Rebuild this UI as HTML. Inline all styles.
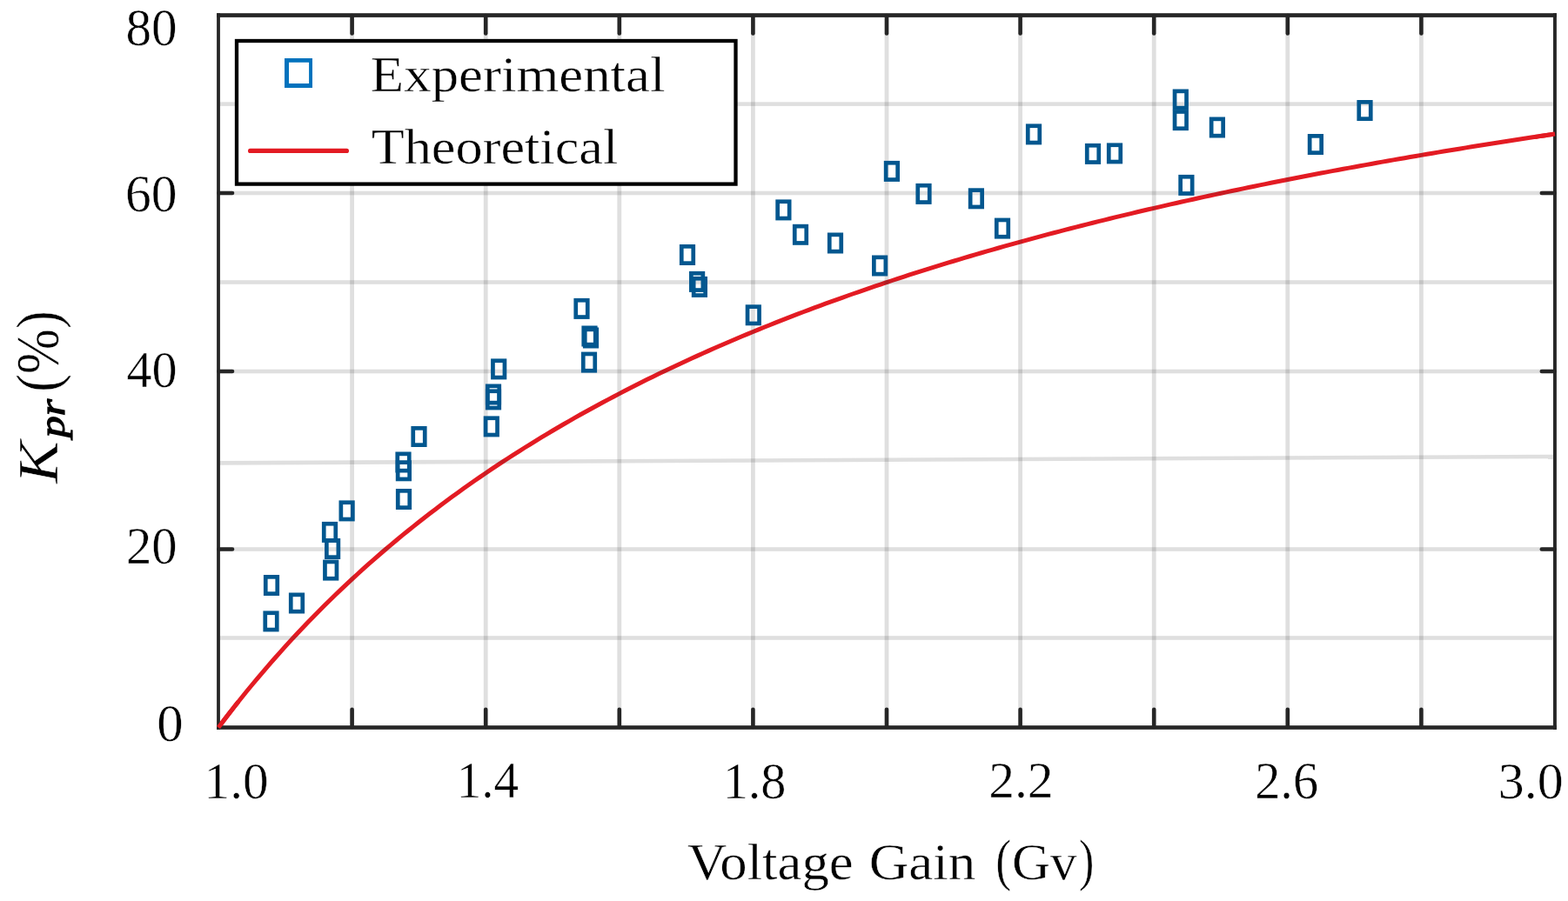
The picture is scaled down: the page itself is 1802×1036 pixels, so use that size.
<!DOCTYPE html>
<html><head><meta charset="utf-8"><title>K_pr vs Voltage Gain</title>
<style>html,body{margin:0;padding:0;background:#fff;overflow:hidden}svg{display:block}</style>
</head><body>
<svg width="1802" height="1036" viewBox="0 0 1802 1036">
<rect width="1802" height="1036" fill="#fff"/>
<polyline points="251.00,836.50 257.40,828.04 263.80,819.72 270.20,811.53 276.60,803.48 283.00,795.55 289.40,787.75 295.80,780.07 302.20,772.52 308.60,765.08 315.00,757.75 321.40,750.54 327.80,743.43 334.20,736.43 340.60,729.54 347.00,722.75 353.40,716.06 359.80,709.47 366.20,702.97 372.60,696.56 379.00,690.25 385.40,684.03 391.80,677.89 398.20,671.84 404.60,665.88 411.00,659.99 417.40,654.19 423.80,648.46 430.20,642.82 436.60,637.25 443.00,631.75 449.40,626.33 455.80,620.97 462.20,615.69 468.60,610.48 475.00,605.33 481.40,600.25 487.80,595.23 494.20,590.28 500.60,585.39 507.00,580.56 513.40,575.79 519.80,571.08 526.20,566.43 532.60,561.84 539.00,557.30 545.40,552.81 551.80,548.38 558.20,544.00 564.60,539.67 571.00,535.40 577.40,531.17 583.80,526.99 590.20,522.87 596.60,518.78 603.00,514.75 609.40,510.76 615.80,506.82 622.20,502.92 628.60,499.06 635.00,495.25 641.40,491.48 647.80,487.75 654.20,484.06 660.60,480.41 667.00,476.80 673.40,473.23 679.80,469.70 686.20,466.21 692.60,462.75 699.00,459.33 705.40,455.94 711.80,452.59 718.20,449.28 724.60,446.00 731.00,442.75 737.40,439.54 743.80,436.35 750.20,433.20 756.60,430.09 763.00,427.00 769.40,423.94 775.80,420.92 782.20,417.92 788.60,414.96 795.00,412.02 801.40,409.11 807.80,406.23 814.20,403.37 820.60,400.55 827.00,397.75 833.40,394.98 839.80,392.23 846.20,389.51 852.60,386.82 859.00,384.15 865.40,381.50 871.80,378.88 878.20,376.28 884.60,373.71 891.00,371.16 897.40,368.63 903.80,366.13 910.20,363.65 916.60,361.19 923.00,358.75 929.40,356.33 935.80,353.94 942.20,351.57 948.60,349.21 955.00,346.88 961.40,344.57 967.80,342.28 974.20,340.00 980.60,337.75 987.00,335.52 993.40,333.30 999.80,331.10 1006.20,328.93 1012.60,326.77 1019.00,324.62 1025.40,322.50 1031.80,320.39 1038.20,318.31 1044.60,316.23 1051.00,314.18 1057.40,312.14 1063.80,310.12 1070.20,308.11 1076.60,306.12 1083.00,304.15 1089.40,302.19 1095.80,300.25 1102.20,298.32 1108.60,296.41 1115.00,294.51 1121.40,292.63 1127.80,290.77 1134.20,288.91 1140.60,287.07 1147.00,285.25 1153.40,283.44 1159.80,281.64 1166.20,279.86 1172.60,278.09 1179.00,276.33 1185.40,274.59 1191.80,272.86 1198.20,271.15 1204.60,269.44 1211.00,267.75 1217.40,266.07 1223.80,264.40 1230.20,262.75 1236.60,261.11 1243.00,259.48 1249.40,257.86 1255.80,256.25 1262.20,254.66 1268.60,253.07 1275.00,251.50 1281.40,249.94 1287.80,248.39 1294.20,246.85 1300.60,245.32 1307.00,243.80 1313.40,242.30 1319.80,240.80 1326.20,239.31 1332.60,237.84 1339.00,236.37 1345.40,234.91 1351.80,233.47 1358.20,232.03 1364.60,230.61 1371.00,229.19 1377.40,227.78 1383.80,226.39 1390.20,225.00 1396.60,223.62 1403.00,222.25 1409.40,220.89 1415.80,219.54 1422.20,218.20 1428.60,216.86 1435.00,215.54 1441.40,214.22 1447.80,212.91 1454.20,211.61 1460.60,210.32 1467.00,209.04 1473.40,207.77 1479.80,206.50 1486.20,205.24 1492.60,203.99 1499.00,202.75 1505.40,201.52 1511.80,200.29 1518.20,199.07 1524.60,197.86 1531.00,196.66 1537.40,195.46 1543.80,194.27 1550.20,193.09 1556.60,191.92 1563.00,190.75 1569.40,189.59 1575.80,188.44 1582.20,187.29 1588.60,186.15 1595.00,185.02 1601.40,183.90 1607.80,182.78 1614.20,181.67 1620.60,180.56 1627.00,179.47 1633.40,178.38 1639.80,177.29 1646.20,176.21 1652.60,175.14 1659.00,174.07 1665.40,173.01 1671.80,171.96 1678.20,170.91 1684.60,169.87 1691.00,168.84 1697.40,167.81 1703.80,166.78 1710.20,165.77 1716.60,164.76 1723.00,163.75 1729.40,162.75 1735.80,161.76 1742.20,160.77 1748.60,159.78 1755.00,158.81 1761.40,157.83 1767.80,156.87 1774.20,155.91 1780.60,154.95 1787.00,154.00" fill="none" stroke="#e31b23" stroke-width="5" stroke-linejoin="round" stroke-linecap="butt"/>
<g fill="#262626" fill-opacity="0.15">
<rect x="402.20" y="19.9" width="4.8" height="814.30"/>
<rect x="555.80" y="19.9" width="4.8" height="814.30"/>
<rect x="709.40" y="19.9" width="4.8" height="814.30"/>
<rect x="863.00" y="19.9" width="4.8" height="814.30"/>
<rect x="1016.60" y="19.9" width="4.8" height="814.30"/>
<rect x="1170.20" y="19.9" width="4.8" height="814.30"/>
<rect x="1323.80" y="19.9" width="4.8" height="814.30"/>
<rect x="1477.40" y="19.9" width="4.8" height="814.30"/>
<rect x="1631.00" y="19.9" width="4.8" height="814.30"/>
<rect x="252.9" y="731.20" width="1532.10" height="4.6"/>
<rect x="252.9" y="629.20" width="1532.10" height="4.6"/>
<rect x="252.9" y="424.70" width="1532.10" height="4.6"/>
<rect x="252.9" y="322.20" width="1532.10" height="4.6"/>
<rect x="252.9" y="219.70" width="1532.10" height="4.6"/>
<rect x="252.9" y="117.30" width="1532.10" height="4.6"/>
<polygon points="252.9,530.1 1785,522.7 1785,527.3 252.9,534.6999999999999"/>
</g>
<g fill="none" stroke="#02578f" stroke-width="4.7">
<rect x="305.25" y="663.35" width="13.5" height="19.3"/>
<rect x="334.25" y="683.85" width="13.5" height="19.3"/>
<rect x="304.75" y="704.75" width="13.5" height="19.3"/>
<rect x="391.85" y="577.75" width="13.5" height="19.3"/>
<rect x="372.25" y="602.25" width="13.5" height="19.3"/>
<rect x="375.35" y="621.35" width="13.5" height="19.3"/>
<rect x="373.45" y="645.95" width="13.5" height="19.3"/>
<rect x="474.75" y="492.35" width="13.5" height="19.3"/>
<rect x="456.75" y="521.85" width="13.5" height="19.3"/>
<rect x="457.15" y="531.65" width="13.5" height="19.3"/>
<rect x="457.25" y="564.35" width="13.5" height="19.3"/>
<rect x="566.45" y="414.75" width="13.5" height="19.3"/>
<rect x="560.25" y="443.85" width="13.5" height="19.3"/>
<rect x="560.25" y="449.75" width="13.5" height="19.3"/>
<rect x="558.05" y="480.75" width="13.5" height="19.3"/>
<rect x="661.75" y="345.25" width="13.5" height="19.3"/>
<rect x="670.75" y="376.85" width="13.5" height="19.3"/>
<rect x="672.25" y="378.85" width="13.5" height="19.3"/>
<rect x="670.25" y="406.95" width="13.5" height="19.3"/>
<rect x="783.25" y="283.35" width="13.5" height="19.3"/>
<rect x="794.35" y="314.25" width="13.5" height="19.3"/>
<rect x="797.15" y="320.25" width="13.5" height="19.3"/>
<rect x="859.05" y="352.65" width="13.5" height="19.3"/>
<rect x="893.65" y="231.75" width="13.5" height="19.3"/>
<rect x="913.25" y="260.15" width="13.5" height="19.3"/>
<rect x="953.25" y="269.85" width="13.5" height="19.3"/>
<rect x="1004.35" y="295.85" width="13.5" height="19.3"/>
<rect x="1018.15" y="187.25" width="13.5" height="19.3"/>
<rect x="1054.75" y="213.25" width="13.5" height="19.3"/>
<rect x="1115.15" y="218.65" width="13.5" height="19.3"/>
<rect x="1145.25" y="252.95" width="13.5" height="19.3"/>
<rect x="1181.25" y="144.75" width="13.5" height="19.3"/>
<rect x="1249.25" y="167.25" width="13.5" height="19.3"/>
<rect x="1274.25" y="166.75" width="13.5" height="19.3"/>
<rect x="1350.05" y="104.85" width="13.5" height="19.3"/>
<rect x="1350.05" y="128.45" width="13.5" height="19.3"/>
<rect x="1392.15" y="136.85" width="13.5" height="19.3"/>
<rect x="1356.65" y="203.25" width="13.5" height="19.3"/>
<rect x="1505.15" y="156.35" width="13.5" height="19.3"/>
<rect x="1561.75" y="117.35" width="13.5" height="19.3"/>
</g>
<g fill="#262626">
<rect x="249.1" y="15.2" width="1539.8" height="4.7"/>
<rect x="249.1" y="834.2" width="1539.8" height="4.6"/>
<rect x="249.1" y="15.2" width="3.8" height="823.6"/>
<rect x="1785.0" y="15.2" width="3.9" height="823.6"/>
</g>
<g stroke="#262626" stroke-width="4.6" stroke-linecap="round">
<line x1="404.60" y1="836" x2="404.60" y2="815.8"/>
<line x1="404.60" y1="18" x2="404.60" y2="38.4"/>
<line x1="558.20" y1="836" x2="558.20" y2="815.8"/>
<line x1="558.20" y1="18" x2="558.20" y2="38.4"/>
<line x1="711.80" y1="836" x2="711.80" y2="815.8"/>
<line x1="711.80" y1="18" x2="711.80" y2="38.4"/>
<line x1="865.40" y1="836" x2="865.40" y2="815.8"/>
<line x1="865.40" y1="18" x2="865.40" y2="38.4"/>
<line x1="1019.00" y1="836" x2="1019.00" y2="815.8"/>
<line x1="1019.00" y1="18" x2="1019.00" y2="38.4"/>
<line x1="1172.60" y1="836" x2="1172.60" y2="815.8"/>
<line x1="1172.60" y1="18" x2="1172.60" y2="38.4"/>
<line x1="1326.20" y1="836" x2="1326.20" y2="815.8"/>
<line x1="1326.20" y1="18" x2="1326.20" y2="38.4"/>
<line x1="1479.80" y1="836" x2="1479.80" y2="815.8"/>
<line x1="1479.80" y1="18" x2="1479.80" y2="38.4"/>
<line x1="1633.40" y1="836" x2="1633.40" y2="815.8"/>
<line x1="1633.40" y1="18" x2="1633.40" y2="38.4"/>
<line x1="251.5" y1="631.50" x2="267" y2="631.50"/>
<line x1="1786.5" y1="631.50" x2="1771.8" y2="631.50"/>
<line x1="251.5" y1="427.00" x2="267" y2="427.00"/>
<line x1="1786.5" y1="427.00" x2="1771.8" y2="427.00"/>
<line x1="251.5" y1="222.00" x2="267" y2="222.00"/>
<line x1="1786.5" y1="222.00" x2="1771.8" y2="222.00"/>
</g>
<polyline points="251.00,836.50 252.92,833.95 254.84,831.41 256.76,828.88 258.68,826.36 260.60,823.86 262.52,821.37 264.44,818.89 266.36,816.43 268.28,813.97 270.20,811.53 272.12,809.10 274.04,806.68" fill="none" stroke="#e31b23" stroke-width="5" stroke-linejoin="round" stroke-linecap="butt"/>
<polyline points="1763.96,157.45 1765.88,157.16 1767.80,156.87 1769.72,156.58 1771.64,156.29 1773.56,156.00 1775.48,155.71 1777.40,155.43 1779.32,155.14 1781.24,154.86 1783.16,154.57 1785.08,154.28 1787.00,154.00" fill="none" stroke="#e31b23" stroke-width="5" stroke-linejoin="round" stroke-linecap="butt"/>
<rect x="272.0" y="47.0" width="573.5" height="164.6" fill="#fff" stroke="#000" stroke-width="4.3"/>
<path d="M327,67H359V100.9H327Z M332,71.8V96H355.1V71.8Z" fill="#0072bd" fill-rule="evenodd"/>
<line x1="287.6" y1="173.4" x2="398.4" y2="173.4" stroke="#e31b23" stroke-width="5.2" stroke-linecap="round"/>
<g font-family="Liberation Serif, serif" font-size="58" fill="#000">
<text transform="translate(144.45 51.73) scale(1.0206 1.0410)" stroke="#fff" stroke-width="0.485">80</text>
<text transform="translate(144.08 242.73) scale(1.0272 1.0436)" stroke="#fff" stroke-width="0.483">60</text>
<text transform="translate(145.40 445.43) scale(1.0037 1.0359)" stroke="#fff" stroke-width="0.490">40</text>
<text transform="translate(144.92 647.63) scale(1.0122 1.0436)" stroke="#fff" stroke-width="0.486">20</text>
<text transform="translate(180.29 851.73) scale(1.0490 1.0410)" stroke="#fff" stroke-width="0.478">0</text>
<text transform="translate(234.54 918.38) scale(1.0222 1.0318)" stroke="#fff" stroke-width="0.487">1.0</text>
<text transform="translate(524.72 917.39) scale(0.9865 1.0194)" stroke="#fff" stroke-width="0.499">1.4</text>
<text transform="translate(830.63 918.38) scale(1.0038 1.0318)" stroke="#fff" stroke-width="0.491">1.8</text>
<text transform="translate(1136.18 917.39) scale(1.0262 1.0128)" stroke="#fff" stroke-width="0.490">2.2</text>
<text transform="translate(1442.13 918.37) scale(1.0066 1.0385)" stroke="#fff" stroke-width="0.489">2.6</text>
<text transform="translate(1721.81 918.38) scale(1.0326 1.0318)" stroke="#fff" stroke-width="0.484">3.0</text>
<text transform="translate(790.04 1010.55) scale(1.0823 1.0150)" stroke="#fff" stroke-width="0.477">Voltage</text>
<text transform="translate(998.63 1010.55) scale(1.0874 1.0150)" stroke="#fff" stroke-width="0.476">Gain</text>
<text transform="translate(1144.25 1011.30) scale(0.9200 1.1388)" stroke="#fff" stroke-width="0.488">(</text>
<text transform="translate(1163.03 1010.55) scale(1.0491 1.0150)" stroke="#fff" stroke-width="0.485">Gv</text>
<text transform="translate(1240.08 1011.30) scale(0.9000 1.1388)" stroke="#fff" stroke-width="0.494">)</text>
<text transform="translate(425.85 105.25) scale(1.0840 1.0000)" stroke="#fff" stroke-width="0.480">Experimental</text>
<text transform="translate(426.68 188.25) scale(1.0740 1.0000)" stroke="#fff" stroke-width="0.482">Theoretical</text>
<text transform="translate(66.15 556.00) rotate(-90) scale(1.2667 1.1444)" font-style="italic" stroke="#fff" stroke-width="0.415">K</text>
<text transform="translate(73.79 503.03) rotate(-90) scale(0.8527 0.6785)" font-style="italic" stroke="#000" stroke-width="1.841">pr</text>
<text transform="translate(66.52 450.64) rotate(-90) scale(1.0744 1.1943)" stroke="#fff" stroke-width="0.441">(%)</text>
</g>
</svg>
</body></html>
